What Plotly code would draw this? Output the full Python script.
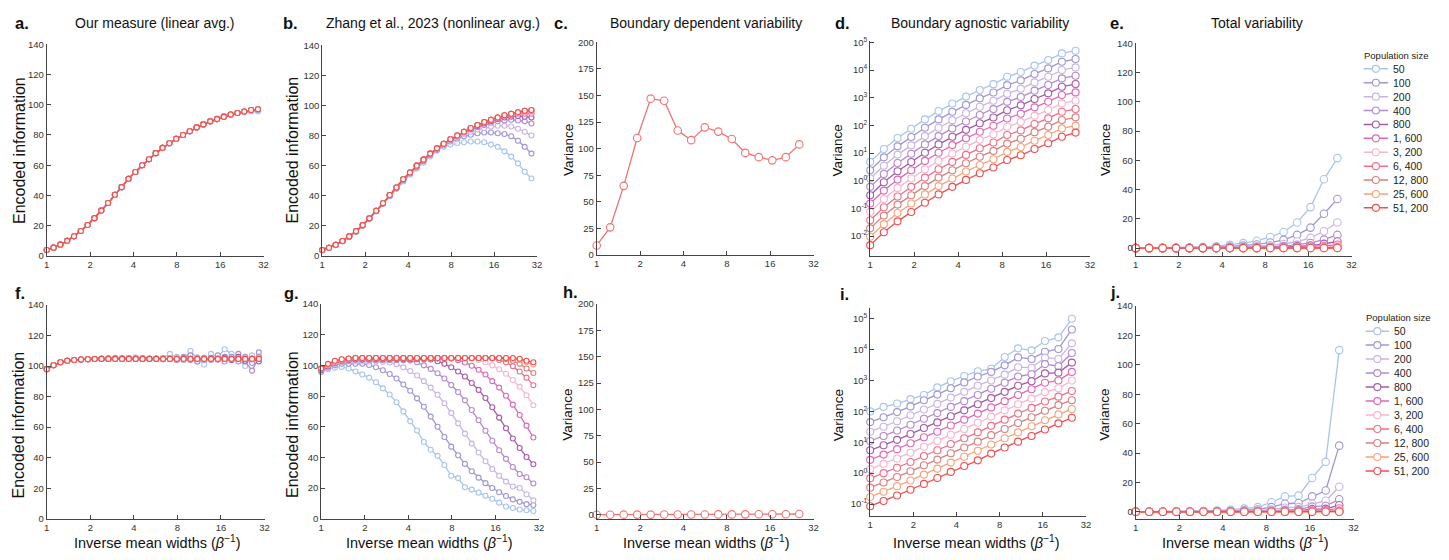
import math
import plotly.graph_objects as go

W, H = 1449, 560
FONT = "Liberation Sans, Arial, sans-serif"

# ---------------- data ----------------
POP_LABELS = ["50", "100", "200", "400", "800", "1, 600", "3, 200", "6, 400", "12, 800", "25, 600", "51, 200"]
COLORS = ["#a9c3ef", "#a096d3", "#c8b5e2", "#b38bcc", "#a55aaa", "#de68b6",
          "#f5b6ce", "#f07089", "#d88080", "#f9a27a", "#f04e4e"]

X_TICKS = [1, 2, 4, 8, 16, 32]
X_TICKTEXT = ["1", "2", "4", "8", "16", "32"]

X32 = [1.0, 1.115, 1.243, 1.386, 1.546, 1.724, 1.922, 2.143, 2.39, 2.665, 2.971, 3.313, 3.694, 4.119,
       4.593, 5.121, 5.71, 6.367, 7.1, 7.917, 8.827, 9.843, 10.975, 12.237, 13.645, 15.215, 16.965,
       18.917, 21.093, 23.519, 26.225, 29.242]
X16 = [1.0, 1.24, 1.54, 1.91, 2.37, 2.94, 3.65, 4.53, 5.63, 6.98, 8.67, 10.75, 13.35, 16.56, 20.55, 25.5]

# a. Our measure (linear avg.)
A_BASE = [4, 5.5, 7.5, 10, 13, 16.5, 20.5, 25, 30, 35, 40.5, 45.5, 51, 55.5, 60, 64, 68, 71.5, 74.5, 77.5,
          80, 82.5, 85, 87, 89, 90.5, 92, 93.5, 94.5, 95.5, 96.5, 97]
A_50 = [4, 5.5, 7.5, 10, 13, 16.5, 20.5, 25, 30, 35, 40.5, 45.5, 51, 55.5, 60, 64, 68, 71.5, 74.5, 77.5,
        80, 82.5, 85, 87, 89.5, 91, 92.5, 93.5, 94.5, 95, 95.5, 95.5]
A_100 = [4, 5.5, 7.5, 10, 13, 16.5, 20.5, 25, 30, 35, 40.5, 45.5, 51, 55.5, 60, 64, 68, 71.5, 74.5, 77.5,
         80, 82.5, 85, 87, 89, 90.5, 92.5, 93.5, 94.5, 95.5, 96, 96.5]
A_SERIES = [A_50, A_100, A_BASE, A_BASE, A_BASE, A_BASE, A_BASE, A_BASE, A_BASE, A_BASE, A_BASE]

# b. Zhang et al. (nonlinear avg.)
B_50 = [3.8, 5.3, 7.2, 9.6, 12.5, 16, 20, 24.5, 29.5, 34.5, 39.5, 44.5, 49.5, 54, 58, 62, 66, 70, 72.5, 74,
        75, 75.5, 76, 76, 75.5, 74, 72.5, 69.5, 66, 61.5, 56, 51.5]
B_100 = [3.9, 5.4, 7.3, 9.8, 12.8, 16.3, 20.3, 24.8, 29.8, 34.8, 40, 45, 50.2, 54.8, 59, 63, 67, 70.5, 73.5, 76,
         78, 79.5, 80.5, 81.5, 82, 82, 81.5, 81, 79.5, 76.5, 72.5, 68]
B_200 = [4, 5.5, 7.5, 10, 13, 16.5, 20.5, 25, 30, 35, 40.5, 45.5, 51, 55.5, 60, 64, 68, 71, 74, 76.5,
         79, 81, 82.5, 84, 85, 86, 86.5, 86.5, 86, 84.5, 82.5, 80]
B_400 = [4, 5.5, 7.5, 10, 13, 16.5, 20.5, 25, 30, 35, 40.5, 45.5, 51, 55.5, 60, 64, 68, 71.3, 74.3, 77,
         79.5, 82, 84, 85.5, 87, 88.5, 89.5, 90, 90.5, 90, 89.5, 88]
B_800 = [4, 5.5, 7.5, 10, 13, 16.5, 20.5, 25, 30, 35, 40.5, 45.5, 51, 55.5, 60, 64, 68, 71.5, 74.5, 77.5,
         80, 82.3, 84.5, 86.3, 88, 89.5, 91, 92, 92.5, 93, 92.5, 92]
B_1600 = [4, 5.5, 7.5, 10, 13, 16.5, 20.5, 25, 30, 35, 40.5, 45.5, 51, 55.5, 60, 64, 68, 71.5, 74.5, 77.5,
          80, 82.5, 84.8, 86.8, 88.7, 90.2, 91.5, 93, 93.5, 94.5, 94.5, 94.5]
B_3200 = [4, 5.5, 7.5, 10, 13, 16.5, 20.5, 25, 30, 35, 40.5, 45.5, 51, 55.5, 60, 64, 68, 71.5, 74.5, 77.5,
          80, 82.5, 85, 87, 89, 90.5, 92, 93.3, 94.3, 95, 95.5, 95.5]
B_6400 = [4, 5.5, 7.5, 10, 13, 16.5, 20.5, 25, 30, 35, 40.5, 45.5, 51, 55.5, 60, 64, 68, 71.5, 74.5, 77.5,
          80, 82.5, 85, 87, 89, 90.5, 92, 93.5, 94.5, 95.5, 96, 96.3]
B_SERIES = [B_50, B_100, B_200, B_400, B_800, B_1600, B_3200, B_6400, A_BASE, A_BASE, A_BASE]

# c. Boundary dependent variability
C_VALS = [9, 26, 65, 110, 147, 145, 117, 108, 120, 116, 109, 96, 92, 89, 92, 104]

# d. Boundary agnostic variability (log)
D_50 = [4.8, 14, 35, 76, 165, 330, 620, 1100, 1900, 3100, 5700, 8500, 14500, 23000, 40000, 50000]
D_100 = [2.4, 7, 17.5, 38, 82, 165, 310, 550, 950, 1550, 2850, 4250, 7250, 11500, 20000, 25000]
D_200 = [1.2, 3.5, 8.8, 19, 41, 82, 155, 275, 475, 775, 1400, 2100, 3600, 5750, 10000, 12500]
D_400 = [0.6, 1.75, 4.4, 9.5, 20.6, 41, 78, 138, 238, 388, 710, 1060, 1800, 2900, 5000, 6250]
D_800 = [0.3, 0.88, 2.2, 4.75, 10.3, 20.6, 39, 69, 119, 194, 355, 530, 900, 1440, 2500, 3125]
D_1600 = [0.15, 0.44, 1.1, 2.4, 5.2, 10.3, 19.4, 34, 59, 97, 178, 265, 450, 720, 1250, 1560]
D_3200 = [0.075, 0.22, 0.55, 1.2, 2.6, 5.2, 9.7, 17, 30, 48, 89, 133, 225, 360, 625, 780]
D_6400 = [0.0375, 0.11, 0.27, 0.6, 1.3, 2.6, 4.8, 8.6, 15, 24, 45, 66, 113, 180, 313, 390]
D_12800 = [0.019, 0.055, 0.137, 0.3, 0.64, 1.3, 2.4, 4.3, 7.4, 12, 22, 33, 57, 90, 156, 195]
D_25600 = [0.0094, 0.027, 0.068, 0.15, 0.32, 0.64, 1.2, 2.15, 3.7, 6, 11, 16.6, 28, 45, 78, 98]
D_51200 = [0.0047, 0.0137, 0.034, 0.074, 0.16, 0.32, 0.6, 1.07, 1.86, 3.0, 5.6, 8.3, 14, 22.5, 39, 55]
D_SERIES = [D_50, D_100, D_200, D_400, D_800, D_1600, D_3200, D_6400, D_12800, D_25600, D_51200]

# e. Total variability
E_50 = [0.05, 0.1, 0.15, 0.25, 0.4, 0.8, 1.3, 2.2, 3.4, 5, 7.6, 11, 17.5, 28, 47, 61.5]
E_100 = [0.03, 0.05, 0.08, 0.13, 0.2, 0.4, 0.65, 1.1, 1.7, 2.5, 3.8, 5.6, 9, 14, 23.5, 33.5]
E_200 = [0.015, 0.025, 0.04, 0.06, 0.1, 0.2, 0.33, 0.55, 0.85, 1.25, 1.9, 2.8, 4.5, 7, 11.5, 17.5]
E_400 = [0.01, 0.012, 0.02, 0.03, 0.05, 0.1, 0.16, 0.27, 0.42, 0.62, 0.95, 1.4, 2.3, 3.5, 5.8, 9]
E_800 = [0.005, 0.006, 0.01, 0.015, 0.025, 0.05, 0.08, 0.14, 0.21, 0.31, 0.48, 0.7, 1.15, 1.75, 2.9, 4.5]
E_1600 = [0.003, 0.003, 0.005, 0.008, 0.013, 0.025, 0.04, 0.07, 0.1, 0.16, 0.24, 0.35, 0.57, 0.9, 1.45, 2.3]
E_3200 = [0.002, 0.002, 0.003, 0.004, 0.006, 0.012, 0.02, 0.035, 0.05, 0.08, 0.12, 0.18, 0.29, 0.45, 0.72, 1.15]
E_6400 = [0.001, 0.001, 0.002, 0.002, 0.003, 0.006, 0.01, 0.017, 0.026, 0.04, 0.06, 0.09, 0.14, 0.22, 0.36, 0.58]
E_12800 = [0.0005, 0.0005, 0.001, 0.001, 0.0015, 0.003, 0.005, 0.009, 0.013, 0.02, 0.03, 0.045, 0.07, 0.11, 0.18, 0.29]
E_25600 = [0.0003, 0.0003, 0.0005, 0.0005, 0.0008, 0.0015, 0.0025, 0.0045, 0.0065, 0.01, 0.015, 0.022, 0.035, 0.055, 0.09, 0.145]
E_51200 = [0.0002, 0.0002, 0.0003, 0.0003, 0.0004, 0.0008, 0.0012, 0.0022, 0.0033, 0.005, 0.008, 0.011, 0.018, 0.028, 0.045, 0.07]
E_SERIES = [E_50, E_100, E_200, E_400, E_800, E_1600, E_3200, E_6400, E_12800, E_25600, E_51200]

# f. Our measure, second condition
F_BASE = [98, 100.5, 102.5, 103.5, 104, 104.3, 104.5, 104.6, 104.7, 104.7, 104.7, 104.7, 104.7, 104.7, 104.7, 104.7,
          104.7, 104.7, 104.7, 104.7, 104.7, 104.7, 104.7, 104.7, 104.7, 104.7, 104.7, 104.7, 104.7, 104.7, 104.7, 104.7]
F_50 = [98, 100.5, 102.5, 103.5, 104, 104.3, 104.6, 104.8, 105, 105.3, 105.5, 105.5, 105.3, 105.8, 105.2, 105,
        104.8, 105.5, 108, 106, 104, 110, 105, 101, 108, 106, 111, 108, 104, 100, 107, 104]
F_100 = [98, 100.5, 102.5, 103.5, 104, 104.3, 104.5, 104.7, 104.8, 105, 105.2, 105, 105.3, 105, 105.2, 104.8,
         105, 104.5, 105, 104, 106, 107, 103, 105, 104, 107, 103, 106, 103, 106, 102, 109]
F_200 = [98, 100.5, 102.5, 103.5, 104, 104.3, 104.5, 104.6, 104.7, 104.8, 104.9, 104.8, 105, 104.8, 104.9, 104.7,
         104.8, 104.6, 105.2, 104.5, 105.5, 104.3, 105.8, 104, 105.5, 104.3, 106, 104, 105.5, 103.5, 105, 106]
F_400 = [98, 100.5, 102.5, 103.5, 104, 104.3, 104.5, 104.6, 104.7, 104.7, 104.8, 104.7, 104.8, 104.7, 104.8, 104.6,
         104.7, 104.5, 105, 104.3, 105.5, 104, 103, 105.5, 104.5, 105, 106, 104, 108, 103, 97, 106]
F_800 = [98, 100.5, 102.5, 103.5, 104, 104.3, 104.5, 104.6, 104.7, 104.7, 104.7, 104.7, 104.7, 104.7, 104.7, 104.7,
         104.7, 104.7, 104.7, 104.7, 104.9, 104.5, 105, 104.4, 105.2, 104.3, 105.5, 104, 106, 103.5, 104.5, 103]
F_SERIES = [F_50, F_100, F_200, F_400, F_800, F_BASE, F_BASE, F_BASE, F_BASE, F_BASE, F_BASE]

# g. Zhang et al., second condition
G_50 = [95.5, 97.5, 98.5, 99, 98, 96, 94, 92, 89, 85, 81, 76, 70, 63.5, 57.5, 50, 45, 41, 35, 28,
        26.5, 20.5, 19, 17, 15, 13, 10.5, 8, 7, 6, 5.5, 5]
G_100 = [96, 98.5, 100, 101, 101, 101, 101, 100.2, 98.8, 96.8, 94.4, 91.4, 87.5, 83.5, 78.5, 73, 66.6, 60, 53.3, 47,
         41.4, 35.8, 31, 26.8, 23.2, 20, 17.3, 14.8, 12.6, 11, 9.5, 9]
G_200 = [96.5, 99, 101, 102, 102.5, 102.5, 102.5, 102.5, 102.5, 102.3, 101.9, 100.8, 98.7, 96.3, 93.4, 89.7, 85.5,
         80.8, 75.3, 69, 62.2, 55.5, 49, 43.2, 37.5, 32.4, 28, 24.2, 21, 20, 16, 12]
G_400 = [97, 99.5, 101.5, 102.5, 103, 103.5, 103.5, 103.5, 103.5, 103.5, 103.5, 103.5, 103.4, 103.1, 102, 100, 97.7,
         94.9, 91.4, 87.2, 82.6, 77.2, 70.9, 64.2, 57.4, 50.8, 44.7, 39, 33.7, 29.2, 27, 23]
G_800 = [97, 99.5, 101.5, 103, 103.5, 104, 104, 104, 104, 104, 104, 104, 104, 104, 104, 104, 103.8, 102.7, 101, 98.8,
         96, 92.7, 88.5, 84, 78.7, 72.7, 65.9, 59, 52.3, 46.1, 40.3, 35.5]
G_1600 = [97.5, 100, 102, 103, 104, 104.5, 104.5, 104.5, 104.5, 104.5, 104.5, 104.5, 104.5, 104.5, 104.5, 104.5,
          104.5, 104.5, 104.5, 104.5, 103.4, 101.9, 99.8, 97.1, 94, 89.7, 85.5, 80.2, 74.4, 67.6, 60.7, 53]
G_3200 = [97.5, 100, 102, 103.5, 104, 104.7, 104.7, 104.7, 104.7, 104.7, 104.7, 104.7, 104.7, 104.7, 104.7, 104.7,
          104.7, 104.7, 104.7, 104.7, 104.7, 104.7, 104.5, 103.5, 102, 100, 97.5, 94.5, 90.5, 86, 80.5, 74]
G_6400 = [97.5, 100.5, 102.5, 103.5, 104.2, 104.7, 104.7, 104.7, 104.7, 104.7, 104.7, 104.7, 104.7, 104.7, 104.7,
          104.7, 104.7, 104.7, 104.7, 104.7, 104.7, 104.7, 104.7, 104.7, 104.7, 104.5, 103.5, 102, 99.5, 96, 92, 87]
G_12800 = [98, 100.5, 102.5, 103.7, 104.3, 104.8, 104.8, 104.8, 104.8, 104.8, 104.8, 104.8, 104.8, 104.8, 104.8,
           104.8, 104.8, 104.8, 104.8, 104.8, 104.8, 104.8, 104.8, 104.8, 104.8, 104.8, 104.8, 104, 103, 101, 98, 95]
G_25600 = [98, 100.7, 102.7, 103.8, 104.4, 104.8, 104.8, 104.8, 104.8, 104.8, 104.8, 104.8, 104.8, 104.8, 104.8,
           104.8, 104.8, 104.8, 104.8, 104.8, 104.8, 104.8, 104.8, 104.8, 104.8, 104.8, 104.8, 104.8, 104.3, 103.5,
           102, 100.5]
G_51200 = [98, 101, 103, 104, 104.5, 104.8, 104.8, 104.8, 104.8, 104.8, 104.8, 104.8, 104.8, 104.8, 104.8, 104.8,
           104.8, 104.8, 104.8, 104.8, 104.8, 104.8, 104.8, 104.8, 104.8, 104.8, 104.8, 104.8, 104.8, 104.3, 103, 102]
G_SERIES = [G_50, G_100, G_200, G_400, G_800, G_1600, G_3200, G_6400, G_12800, G_25600, G_51200]

# h. Boundary dependent variability, second condition
H_VALS = [0.1, 0.1, 0.15, 0.2, 0.2, 0.25, 0.3, 0.3, 0.35, 0.4, 0.4, 0.45, 0.5, 0.5, 0.6, 0.8]

# i. Boundary agnostic variability, second condition (log)
I_50 = [100, 140, 180, 250, 340, 600, 950, 1400, 2000, 2400, 5800, 11000, 9500, 19000, 25000, 100000]
I_100 = [45, 65, 95, 145, 230, 350, 560, 870, 1350, 1900, 3100, 5600, 5000, 8500, 10500, 45000]
I_200 = [22, 32, 48, 75, 115, 175, 280, 430, 680, 1000, 1550, 2700, 2600, 5500, 5000, 16000]
I_400 = [11, 16, 24, 37, 58, 88, 140, 215, 340, 540, 850, 1350, 1600, 3400, 2900, 7800]
I_800 = [5.5, 8, 12, 18.5, 29, 44, 70, 108, 170, 270, 430, 680, 950, 1700, 1800, 3800]
I_1600 = [2.7, 4, 6, 9.3, 14.5, 22, 35, 54, 85, 135, 215, 340, 520, 850, 1000, 1900]
I_3200 = [1.35, 2, 3, 4.6, 7.2, 11, 17.5, 27, 43, 68, 108, 170, 260, 420, 560, 1000]
I_6400 = [0.68, 1, 1.5, 2.3, 3.6, 5.5, 8.8, 13.5, 21, 34, 54, 85, 130, 210, 300, 460]
I_12800 = [0.34, 0.5, 0.75, 1.15, 1.8, 2.75, 4.4, 6.8, 10.5, 17, 27, 42, 65, 105, 160, 230]
I_25600 = [0.17, 0.25, 0.38, 0.58, 0.9, 1.4, 2.2, 3.4, 5.3, 8.5, 13.5, 21, 33, 52, 80, 120]
I_51200 = [0.085, 0.125, 0.19, 0.29, 0.45, 0.7, 1.1, 1.7, 2.6, 4.3, 6.8, 10.5, 16, 26, 41, 62]
I_SERIES = [I_50, I_100, I_200, I_400, I_800, I_1600, I_3200, I_6400, I_12800, I_25600, I_51200]

# j. Total variability, second condition
J_50 = [0.1, 0.1, 0.15, 0.2, 0.3, 0.5, 0.9, 1.4, 2.2, 3.2, 6.5, 10.5, 11, 23, 34, 110]
J_100 = [0.05, 0.05, 0.08, 0.1, 0.15, 0.25, 0.45, 0.7, 1.1, 1.6, 3.2, 5.5, 6, 10.5, 14.5, 45]
J_200 = [0.03, 0.03, 0.04, 0.05, 0.08, 0.13, 0.22, 0.35, 0.55, 0.8, 1.6, 2.8, 3.2, 5.5, 7.5, 17]
J_400 = [0.01, 0.015, 0.02, 0.03, 0.04, 0.06, 0.11, 0.18, 0.28, 0.4, 0.8, 1.4, 1.7, 3.5, 4, 8.5]
J_800 = [0.006, 0.008, 0.01, 0.014, 0.02, 0.03, 0.055, 0.09, 0.14, 0.2, 0.4, 0.7, 0.85, 1.8, 2, 4.5]
J_1600 = [0.003, 0.004, 0.005, 0.007, 0.01, 0.015, 0.028, 0.045, 0.07, 0.1, 0.2, 0.35, 0.45, 0.9, 1.1, 2.3]
J_3200 = [0.0015, 0.002, 0.0025, 0.0035, 0.005, 0.008, 0.014, 0.022, 0.035, 0.05, 0.1, 0.18, 0.22, 0.45, 0.55, 1.1]
J_6400 = [0.0008, 0.001, 0.0013, 0.0018, 0.0025, 0.004, 0.007, 0.011, 0.018, 0.025, 0.05, 0.09, 0.11, 0.22, 0.28, 0.55]
J_12800 = [0.0004, 0.0005, 0.0006, 0.0009, 0.0013, 0.002, 0.0035, 0.0055, 0.009, 0.013, 0.025, 0.045, 0.055, 0.11, 0.14, 0.28]
J_25600 = [0.0002, 0.00025, 0.0003, 0.00045, 0.0006, 0.001, 0.0018, 0.0028, 0.0045, 0.0065, 0.013, 0.022, 0.028, 0.055, 0.07, 0.14]
J_51200 = [0.0001, 0.00012, 0.00015, 0.0002, 0.0003, 0.0005, 0.0009, 0.0014, 0.0022, 0.0032, 0.0065, 0.011, 0.014, 0.028, 0.035, 0.07]
J_SERIES = [J_50, J_100, J_200, J_400, J_800, J_1600, J_3200, J_6400, J_12800, J_25600, J_51200]

for s in A_SERIES + B_SERIES + F_SERIES + G_SERIES:
    assert len(s) == len(X32), len(s)
for s in D_SERIES + E_SERIES + I_SERIES + J_SERIES + [C_VALS, H_VALS]:
    assert len(s) == len(X16), len(s)

# ---------------- layout helpers ----------------
def xdom(l, r):
    return [l / W, r / W]

def ydom(top, bottom):
    return [1 - bottom / H, 1 - top / H]

LIN140 = dict(tickvals=[0, 20, 40, 60, 80, 100, 120, 140])
LIN200 = dict(tickvals=[0, 25, 50, 75, 100, 125, 150, 175, 200])

def logticks(lo, hi):
    vals = [10 ** k for k in range(lo, hi + 1)]
    txt = ["10<sup>%d</sup>" % k for k in range(lo, hi + 1)]
    return dict(tickvals=vals, ticktext=txt)

# (name, x-domain px, y-domain px, y range, y type, y ticks)
PANELS = [
    ("a", (44, 262), (39, 255), [0, 140], "linear", LIN140),
    ("b", (321, 537), (40, 255), [0, 140], "linear", LIN140),
    ("c", (597, 815), (37, 254), [0, 200], "linear", LIN200),
    ("d", (872, 1093), (36, 255), [-2.72, 5.04], "log", logticks(-2, 5)),
    ("e", (1139, 1356), (38, 255), [-5.4, 140], "linear", LIN140),
    ("f", (44, 263), (305, 523), [0, 140], "linear", LIN140),
    ("g", (320, 539), (304, 523), [0, 140], "linear", LIN140),
    ("h", (597, 815), (304, 523), [-3.7, 200], "linear", LIN200),
    ("i", (872, 1089), (308, 520), [-1.38, 5.35], "log", logticks(-1, 5)),
    ("j", (1139, 1358), (306, 523), [-4.7, 140], "linear", LIN140),
]

fig = go.Figure()
layout = dict(
    width=W, height=H, autosize=False,
    margin=dict(l=0, r=0, t=0, b=0),
    paper_bgcolor="white", plot_bgcolor="white",
    showlegend=False,
    font=dict(family=FONT, color="#222"),
)

AXCOL = "#444"
TICKFONT = dict(size=9.5, color="#333", family=FONT)
for idx, (name, xd, yd, yr, yt, yticks) in enumerate(PANELS, start=1):
    sx = "" if idx == 1 else str(idx)
    layout["xaxis" + sx] = dict(
        domain=xdom(*xd), anchor="y" + sx, type="log", range=[0, math.log10(32)],
        tickvals=X_TICKS, ticktext=X_TICKTEXT, ticks="inside", ticklen=4, tickcolor=AXCOL,
        showline=True, linecolor=AXCOL, linewidth=1, showgrid=False, zeroline=False,
        tickfont=TICKFONT,
    )
    ya = dict(
        domain=ydom(*yd), anchor="x" + sx, type=yt, range=yr,
        ticks="inside", ticklen=4, tickcolor=AXCOL,
        showline=True, linecolor=AXCOL, linewidth=1, showgrid=False, zeroline=False,
        tickfont=TICKFONT,
    )
    ya.update(yticks)
    layout["yaxis" + sx] = ya

def add_series(axis_idx, xs, series_list, msize, lw=1.3):
    sx = "" if axis_idx == 1 else str(axis_idx)
    for k, ys in enumerate(series_list):
        fig.add_trace(go.Scatter(
            x=xs, y=ys, mode="lines+markers", xaxis="x" + sx, yaxis="y" + sx,
            line=dict(color=COLORS[k], width=lw),
            marker=dict(symbol="circle", size=msize, color="white",
                        line=dict(color=COLORS[k], width=1.1)),
            cliponaxis=False, name=POP_LABELS[k], hoverinfo="skip",
        ))

add_series(1, X32, A_SERIES, 5)
add_series(2, X32, B_SERIES, 5)
add_series(4, X16, D_SERIES, 7)
add_series(5, X16, E_SERIES, 7.5)
add_series(6, X32, F_SERIES, 5)
add_series(7, X32, G_SERIES, 5)
add_series(9, X16, I_SERIES, 7)
add_series(10, X16, J_SERIES, 7.5)

SINGLE_COLOR = "#f07272"
for ai, vals in ((3, C_VALS), (8, H_VALS)):
    fig.add_trace(go.Scatter(
        x=X16, y=vals, mode="lines+markers", xaxis="x%d" % ai, yaxis="y%d" % ai,
        line=dict(color=SINGLE_COLOR, width=1.3),
        marker=dict(symbol="circle", size=7.5, color="white", line=dict(color=SINGLE_COLOR, width=1.1)),
        cliponaxis=False, hoverinfo="skip",
    ))

# ---------------- manual legends (x11/y11 and x12/y12) ----------------
LEG = [
    (11, (1368, 1393), (57, 213), 1367, 51),
    (12, (1370, 1394), (324.5, 481.5), 1369, 318),
]
annotations = []
for ai, xd, yd, tx, ty in LEG:
    layout["xaxis%d" % ai] = dict(domain=xdom(*xd), anchor="y%d" % ai, range=[0, 2], visible=False, fixedrange=True)
    layout["yaxis%d" % ai] = dict(domain=ydom(*yd), anchor="x%d" % ai, range=[len(POP_LABELS) - 0.5, -0.5],
                                  visible=False, fixedrange=True)
    for k, lab in enumerate(POP_LABELS):
        fig.add_trace(go.Scatter(x=[0, 2], y=[k, k], mode="lines", xaxis="x%d" % ai, yaxis="y%d" % ai,
                                 line=dict(color=COLORS[k], width=1.5), hoverinfo="skip", cliponaxis=False))
        fig.add_trace(go.Scatter(x=[1], y=[k], mode="markers", xaxis="x%d" % ai, yaxis="y%d" % ai,
                                 marker=dict(size=7, color="white", line=dict(color=COLORS[k], width=1.1)),
                                 hoverinfo="skip", cliponaxis=False))
        annotations.append(dict(text=lab, xref="x%d" % ai, yref="y%d" % ai, x=2, y=k, xshift=3,
                                xanchor="left", yanchor="middle", showarrow=False,
                                font=dict(size=10.5, color="#222", family=FONT)))
    annotations.append(dict(text="Population size", xref="paper", yref="paper", x=tx / W, y=1 - ty / H,
                            xanchor="left", yanchor="middle", showarrow=False,
                            font=dict(size=9.5, color="#222", family=FONT)))

def ann(text, px, py, size, bold=False, angle=0, xanchor="center"):
    annotations.append(dict(
        text=("<b>%s</b>" % text) if bold else text, xref="paper", yref="paper",
        x=px / W, y=1 - py / H, xanchor=xanchor, yanchor="middle", showarrow=False,
        textangle=angle, font=dict(size=size, color="#111", family=FONT)))

TITLES = [("Our measure (linear avg.)", 153), ("Zhang et al., 2023 (nonlinear avg.)", 432),
          ("Boundary dependent variability", 707), ("Boundary agnostic variability", 982),
          ("Total variability", 1261)]
for t, px in TITLES:
    ann(t, px, 17, 14)

LETTERS = [("a.", 10, 17), ("b.", 280, 17), ("c.", 552, 17), ("d.", 835, 17), ("e.", 1111, 17),
           ("f.", 10, 293), ("g.", 281, 293), ("h.", 561, 292), ("i.", 840, 294), ("j.", 1111, 292)]
for t, px, py in LETTERS:
    ann(t, px, py, 16.5, bold=True, xanchor="left")

YTITLES = [("Encoded information", 16, 147, 16), ("Encoded information", 291, 147, 16),
           ("Variance", 568, 147, 13.5), ("Variance", 839, 147, 13.5), ("Variance", 1108, 147, 13.5),
           ("Encoded information", 16, 427, 16), ("Encoded information", 291, 427, 16),
           ("Variance", 568, 417, 13.5), ("Variance", 840, 417, 13.5), ("Variance", 1108, 417, 13.5)]
for t, px, py, fs in YTITLES:
    ann(t, px, py, fs, angle=-90)

XTITLE = "Inverse mean widths (<i>β</i><sup>−1</sup>)"
for px in (155, 429, 707, 979, 1249):
    ann(XTITLE, px, 547, 14.5)

layout["annotations"] = annotations
fig.update_layout(**layout)
fig.write_html("out.html", config={"displayModeBar": False, "staticPlot": True},
               post_script="document.body.style.margin='0';document.body.style.padding='0';")
